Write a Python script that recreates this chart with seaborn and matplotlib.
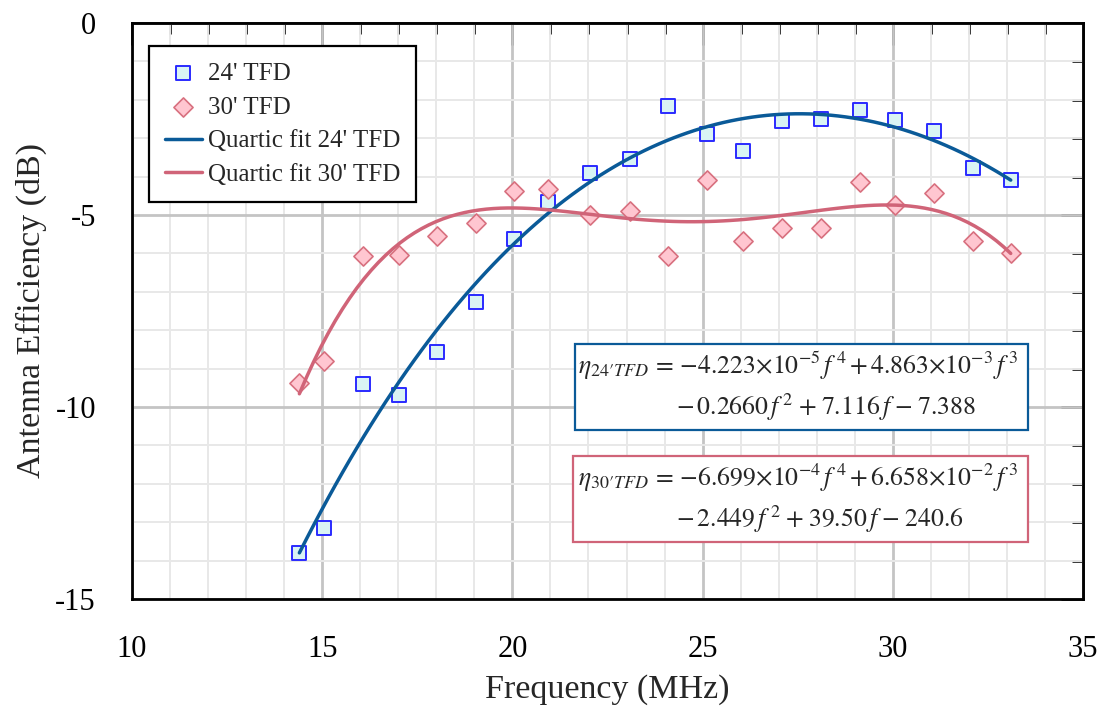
import numpy as np
import pandas as pd
import matplotlib
matplotlib.use("Agg")
import matplotlib.pyplot as plt
import seaborn as sns
from matplotlib.ticker import MultipleLocator
from matplotlib.patches import Rectangle

# ---- data ----
freq = [14.40, 15.06, 16.06, 17.02, 18.03, 19.05, 20.05, 20.94, 22.04, 23.09,
        24.09, 25.11, 26.05, 27.09, 28.12, 29.14, 30.07, 31.09, 32.11, 33.10]
eff_24 = [-13.79, -13.14, -9.39, -9.70, -8.57, -7.27, -5.63, -4.67, -3.91, -3.55,
          -2.15, -2.90, -3.33, -2.54, -2.49, -2.27, -2.52, -2.80, -3.78, -4.10]
eff_30 = [-9.37, -8.80, -6.08, -6.04, -5.55, -5.22, -4.38, -4.33, -5.00, -4.89,
          -6.08, -4.09, -5.68, -5.35, -5.33, -4.14, -4.74, -4.43, -5.67, -5.98]
label_24 = "24' TFD"
label_30 = "30' TFD"
fit_label_24 = "Quartic fit 24' TFD"
fit_label_30 = "Quartic fit 30' TFD"
eq_24 = [r"$\eta_{24\prime TFD}\,{=}\,{-}4.223{\times}10^{-5}\,f^{\,4}\,{+}\,4.863{\times}10^{-3}\,f^{\,3}$",
         r"${-}\,0.2660\,f^{\,2}\;{+}\;7.116\,f\;{-}\;7.388$"]
eq_30 = [r"$\eta_{30\prime TFD}\,{=}\,{-}6.699{\times}10^{-4}\,f^{\,4}\,{+}\,6.658{\times}10^{-2}\,f^{\,3}$",
         r"${-}\,2.449\,f^{\,2}\;{+}\;39.50\,f\;{-}\;240.6$"]
x_ticks = [10, 15, 20, 25, 30, 35]
y_ticks = [0, -5, -10, -15]

df = pd.DataFrame({"freq": freq, "eff_24": eff_24, "eff_30": eff_30})

sns.set_style("white")
plt.rcParams["font.family"] = ["Liberation Serif", "DejaVu Serif"]
plt.rcParams["mathtext.fontset"] = "stix"
plt.rcParams["axes.unicode_minus"] = False

blue_line = "#0a5a98"
pink_line = "#d06478"

fig = plt.figure(figsize=(11.04, 7.10), dpi=100)
ax = fig.add_axes([132/1104, 1-599/710, 951/1104, 576/710])

sns.scatterplot(data=df, x="freq", y="eff_24", ax=ax, marker="s", s=95,
                facecolor="#d9f4f4", edgecolor="#2a2aff", linewidth=1.4,
                label=label_24, zorder=4)
sns.scatterplot(data=df, x="freq", y="eff_30", ax=ax, marker="D", s=95,
                facecolor="#ffc6d0", edgecolor="#d8707f", linewidth=1.2,
                label=label_30, zorder=4)
sns.regplot(data=df, x="freq", y="eff_24", ax=ax, order=4, ci=None, scatter=False,
            truncate=True, label=fit_label_24,
            line_kws=dict(color=blue_line, lw=2.5, zorder=5))
sns.regplot(data=df, x="freq", y="eff_30", ax=ax, order=4, ci=None, scatter=False,
            truncate=True, label=fit_label_30,
            line_kws=dict(color=pink_line, lw=2.5, zorder=5))

ax.set_xlim(10, 35)
ax.set_ylim(-15, 0)
ax.set_xticks(x_ticks)
ax.set_yticks(y_ticks)
ax.xaxis.set_minor_locator(MultipleLocator(1))
ax.yaxis.set_minor_locator(MultipleLocator(1))
ax.grid(which="major", color="#c4c4c4", lw=2.0, zorder=0)
ax.grid(which="minor", color="#e8e8e8", lw=1.4, zorder=0)
ax.set_axisbelow(True)

for sp in ax.spines.values():
    sp.set_linewidth(2.0)
    sp.set_color("black")
    sp.set_zorder(6)

ax.tick_params(which="major", direction="out", length=16, width=2.0,
               labelsize=22, pad=10, colors="black")
ax.tick_params(which="minor", direction="out", length=8, width=2.0)

secx = ax.secondary_xaxis("top")
secx.set_xticks(x_ticks)
secx.xaxis.set_minor_locator(MultipleLocator(1))
secx.tick_params(which="major", direction="in", length=16, width=2.0, labeltop=False)
secx.tick_params(which="minor", direction="in", length=8, width=2.0)
secx.spines["top"].set_linewidth(2.0)
secy = ax.secondary_yaxis("right")
secy.set_yticks(y_ticks)
secy.yaxis.set_minor_locator(MultipleLocator(1))
secy.tick_params(which="major", direction="in", length=16, width=2.0, labelright=False)
secy.tick_params(which="minor", direction="in", length=8, width=2.0)
secy.spines["right"].set_linewidth(2.0)

ax.set_xlabel("Frequency (MHz)", fontsize=24.5, labelpad=7)
ax.set_ylabel("Antenna Efficiency (dB)", fontsize=24.5, labelpad=6)

leg = ax.legend(loc="upper left", bbox_to_anchor=(0.018, 0.96), borderaxespad=0,
                fontsize=18, frameon=True, fancybox=False, edgecolor="black",
                framealpha=1, labelspacing=0.45, handlelength=1.45, handletextpad=0.25,
                borderpad=0.65)
leg.get_frame().set_linewidth(1.6)

# equation boxes
boxes = [((0.4658, 0.2934), 0.942-0.4658, 0.4427-0.2934, blue_line, eq_24),
         ((0.4637, 0.099), 0.942-0.4637, 0.2483-0.099, pink_line, eq_30)]
for (x0, y0), w, h, col, lines in boxes:
    ax.add_patch(Rectangle((x0, y0), w, h, transform=ax.transAxes, fill=True,
                           facecolor="white", edgecolor=col, lw=1.6, zorder=7))
    ax.text(0.469, y0 + h*0.74, lines[0], transform=ax.transAxes,
            ha="left", va="center", fontsize=18.5, zorder=8)
    ax.text(0.572, y0 + h*0.26, lines[1], transform=ax.transAxes,
            ha="left", va="center", fontsize=18.5, zorder=8)

fig.savefig("out.png", dpi=100)
